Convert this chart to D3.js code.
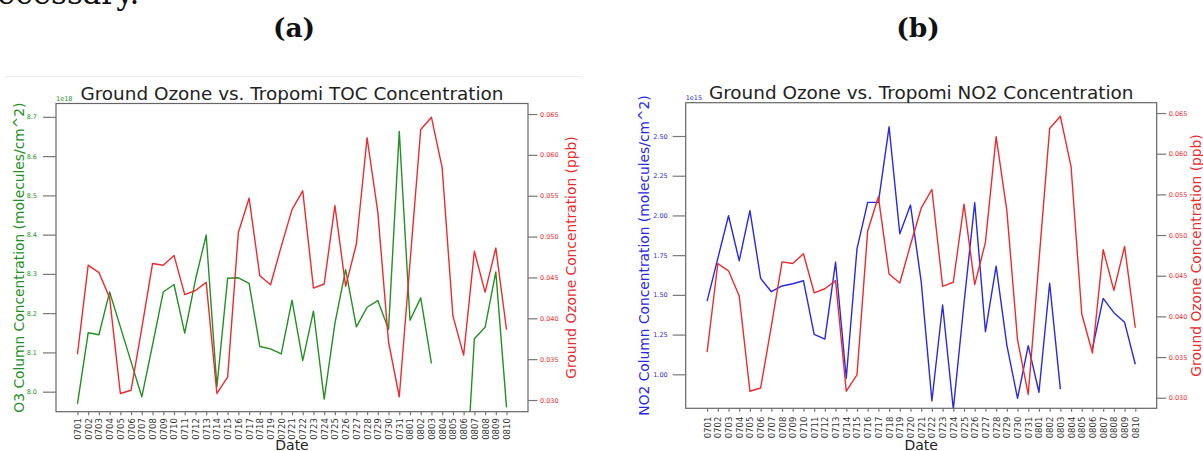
<!DOCTYPE html>
<html>
<head>
<meta charset="utf-8">
<script src="https://cdn.jsdelivr.net/npm/d3@7"></script>
<style>
    body { margin: 0; background: #fff; }
    svg { display: block; font-family: 'DejaVu Sans', sans-serif; }
</style>
</head>
<body>
<div id="chart"></div>
<script>
    const dates = [
        '0701', '0702', '0703', '0704', '0705', '0706', '0707', '0708', '0709', '0710',
        '0711', '0712', '0713', '0714', '0715', '0716', '0717', '0718', '0719', '0720',
        '0721', '0722', '0723', '0724', '0725', '0726', '0727', '0728', '0729', '0730',
        '0731', '0801', '0802', '0803', '0804', '0805', '0806', '0807', '0808', '0809',
        '0810'
    ];

    // ground ozone (ppb), same series on both panels
    const groundOzone = [
        0.0356, 0.0465, 0.0456, 0.0425, 0.0308, 0.0312, 0.0388, 0.0467, 0.0465, 0.0477,
        0.0429, 0.0434, 0.0444, 0.0308, 0.0328, 0.0505, 0.0547, 0.0452, 0.0441, 0.0488,
        0.0533, 0.0556, 0.0437, 0.0442, 0.0538, 0.0439, 0.0491, 0.0621, 0.0530, 0.0371,
        0.0304, 0.0468, 0.0631, 0.0646, 0.0584, 0.0403, 0.0355, 0.0482, 0.0432, 0.0486,
        0.0386
    ];

    // tropomi total ozone column (x 1e18 molecules/cm^2)
    const tropomiToc = [
        7.969, 8.150, 8.145, 8.254, 8.165, 8.076, 7.987, 8.119, 8.254, 8.273,
        8.149, 8.285, 8.399, 8.013, 8.289, 8.290, 8.276, 8.115, 8.109, 8.096,
        8.233, 8.079, 8.205, 7.981, 8.174, 8.311, 8.165, 8.215, 8.232, 8.159,
        8.663, 8.182, 8.239, 8.072, null, null, 7.670, 8.135, 8.164, 8.305,
        7.960
    ];

    // tropomi NO2 column (x 1e15 molecules/cm^2)
    const tropomiNo2 = [
        1.461, 1.730, 1.998, 1.715, 2.030, 1.604, 1.520, 1.556, 1.570, 1.589,
        1.252, 1.222, 1.705, 0.975, 1.789, 2.082, 2.082, 2.558, 1.885, 2.065,
        1.583, 0.832, 1.436, 0.780, 1.447, 2.080, 1.268, 1.681, 1.184, 0.849,
        1.180, 0.887, 1.573, 0.907, null, null, 1.164, 1.478, 1.388, 1.327,
        1.063
    ];

    const tocTicks = [8.0, 8.1, 8.2, 8.3, 8.4, 8.5, 8.6, 8.7];
    const no2Ticks = [1.00, 1.25, 1.50, 1.75, 2.00, 2.25, 2.50];
    const ozoneTicks = [0.030, 0.035, 0.040, 0.045, 0.050, 0.055, 0.060, 0.065];

    const colors = {
        green: '#239023',
        blue: '#2828e6',
        red: '#ec2b2e',
        frame: '#666',
        tick: '#777',
        text: '#222'
    };

    function getPanels() {
        return [
            {
                id: 'a',
                tag: '(a)',
                tagX: 294,
                title: 'Ground Ozone vs. Tropomi TOC Concentration',
                titleY: 100,
                left: 56, right: 528, top: 103.5, bottom: 411.7,
                series: tropomiToc,
                color: colors.green,
                leftDomain: [7.949, 8.734],
                leftTicks: tocTicks,
                leftFormat: '.1f',
                leftPad: 6,
                offset: '1e18',
                leftLabel: 'O3 Column Concentration (molecules/cm^2)',
                leftLabelX: 23.5,
                rightDomain: [0.02857, 0.06629],
                rightLabelX: 575.5,
                xLabelGap: 6.5
            },
            {
                id: 'b',
                tag: '(b)',
                tagX: 918,
                title: 'Ground Ozone vs. Tropomi NO2 Concentration',
                titleY: 98.5,
                left: 685.7, right: 1156.7, top: 102.7, bottom: 408.3,
                series: tropomiNo2,
                color: colors.blue,
                leftDomain: [0.786, 2.7096],
                leftTicks: no2Ticks,
                leftFormat: '.2f',
                leftPad: 5,
                offset: '1e15',
                leftLabel: 'NO2 Column Concentration (molecules/cm^2)',
                leftLabelX: 648.5,
                rightDomain: [0.0287, 0.06627],
                rightLabelX: 1201,
                xLabelGap: 8.4
            }
        ];
    }

    function styleAxis(g, color, size) {
        g.attr('font-family', 'DejaVu Sans').attr('font-size', size);
        g.select('.domain').remove();
        g.selectAll('line').attr('stroke', colors.tick).attr('stroke-width', 1.2);
        g.selectAll('text').attr('fill', color);
    }

    function drawSeries(chart, p, x, y, values, color) {
        const generator = d3.line()
            .defined(d => d != null)
            .x((d, i) => x(i))
            .y(d => y(d));
        return chart.append('path')
            .datum(values)
            .attr('d', generator)
            .attr('fill', 'none')
            .attr('stroke', color)
            .attr('stroke-width', 1.4)
            .attr('stroke-linejoin', 'round')
            .attr('clip-path', `url(#clip-${p.id})`);
    }

    function drawPanel(svg, p) {
        const cy = (p.top + p.bottom) / 2;

        //scales
        const x = d3.scaleLinear()
            .domain([-2, dates.length + 1])
            .range([p.left, p.right]);
        const yLeft = d3.scaleLinear()
            .domain(p.leftDomain)
            .range([p.bottom, p.top]);
        const yRight = d3.scaleLinear()
            .domain(p.rightDomain)
            .range([p.bottom, p.top]);

        //clipPath
        svg.append('clipPath')
            .attr('id', `clip-${p.id}`)
            .append('rect')
            .attr('x', p.left)
            .attr('y', p.top)
            .attr('width', p.right - p.left)
            .attr('height', p.bottom - p.top);

        //lines: column first, ozone on the twin axis above it
        drawSeries(svg, p, x, yLeft, p.series, p.color);
        drawSeries(svg, p, x, yRight, groundOzone, colors.red);

        //frame
        svg.append('rect')
            .attr('x', p.left)
            .attr('y', p.top)
            .attr('width', p.right - p.left)
            .attr('height', p.bottom - p.top)
            .attr('fill', 'none')
            .attr('stroke', colors.frame)
            .attr('stroke-width', 1.2);

        //left axis
        svg.append('g')
            .attr('transform', `translate(${p.left},0)`)
            .call(d3.axisLeft(yLeft)
                .tickValues(p.leftTicks)
                .tickFormat(d3.format(p.leftFormat))
                .tickSize(13)
                .tickPadding(p.leftPad))
            .call(g => styleAxis(g, p.color, 6.5));

        //right axis
        svg.append('g')
            .attr('transform', `translate(${p.right},0)`)
            .call(d3.axisRight(yRight)
                .tickValues(ozoneTicks)
                .tickFormat(d3.format('.3f'))
                .tickSize(9.5)
                .tickPadding(2.5))
            .call(g => styleAxis(g, colors.red, 6.5));

        //x axis
        const xAxis = svg.append('g')
            .attr('transform', `translate(0,${p.bottom})`)
            .call(d3.axisBottom(x)
                .tickValues(d3.range(dates.length))
                .tickFormat(i => dates[i])
                .tickSize(3.5))
            .call(g => styleAxis(g, '#333', 8.5));
        xAxis.selectAll('text')
            .attr('transform', 'rotate(-90)')
            .attr('text-anchor', 'end')
            .attr('x', -p.xLabelGap)
            .attr('y', 0)
            .attr('dy', '0.35em');

        //offset text
        svg.append('text')
            .attr('x', p.left)
            .attr('y', p.top - 2.5)
            .attr('font-size', 6.5)
            .attr('fill', p.color)
            .text(p.offset);

        //title
        svg.append('text')
            .attr('x', (p.left + p.right) / 2)
            .attr('y', p.titleY)
            .attr('text-anchor', 'middle')
            .attr('font-size', 18.4)
            .attr('fill', colors.text)
            .text(p.title);

        //axis labels
        svg.append('text')
            .attr('transform', `translate(${p.leftLabelX},${cy}) rotate(-90)`)
            .attr('text-anchor', 'middle')
            .attr('font-size', 13.8)
            .attr('fill', p.color)
            .text(p.leftLabel);
        svg.append('text')
            .attr('transform', `translate(${p.rightLabelX},${cy}) rotate(-90)`)
            .attr('text-anchor', 'middle')
            .attr('font-size', 13.8)
            .attr('fill', colors.red)
            .text('Ground Ozone Concentration (ppb)');
        svg.append('text')
            .attr('x', (p.left + p.right) / 2)
            .attr('y', 450.2)
            .attr('text-anchor', 'middle')
            .attr('font-size', 14)
            .attr('fill', colors.text)
            .text('Date');

        //panel tag
        svg.append('text')
            .attr('x', p.tagX)
            .attr('y', 36.5)
            .attr('text-anchor', 'middle')
            .attr('font-family', 'DejaVu Serif')
            .attr('font-weight', 'bold')
            .attr('font-size', 26.5)
            .attr('fill', '#111')
            .text(p.tag);
    }

    function figure(element) {
        const svg = d3.select(element)
            .append('svg')
            .attr('width', 1203)
            .attr('height', 451);

        // tail of the sentence above the figure, cut by the crop
        svg.append('text')
            .attr('x', -23)
            .attr('y', 4)
            .attr('font-family', 'DejaVu Serif')
            .attr('font-size', 31)
            .attr('fill', '#111')
            .text('necessary.');

        // faint edge of the embedded left image
        svg.append('line')
            .attr('x1', 5).attr('x2', 582)
            .attr('y1', 76.5).attr('y2', 76.5)
            .attr('stroke', '#ededed');

        getPanels().forEach(p => drawPanel(svg, p));
        return svg;
    }

    figure('#chart');
</script>
</body>
</html>
